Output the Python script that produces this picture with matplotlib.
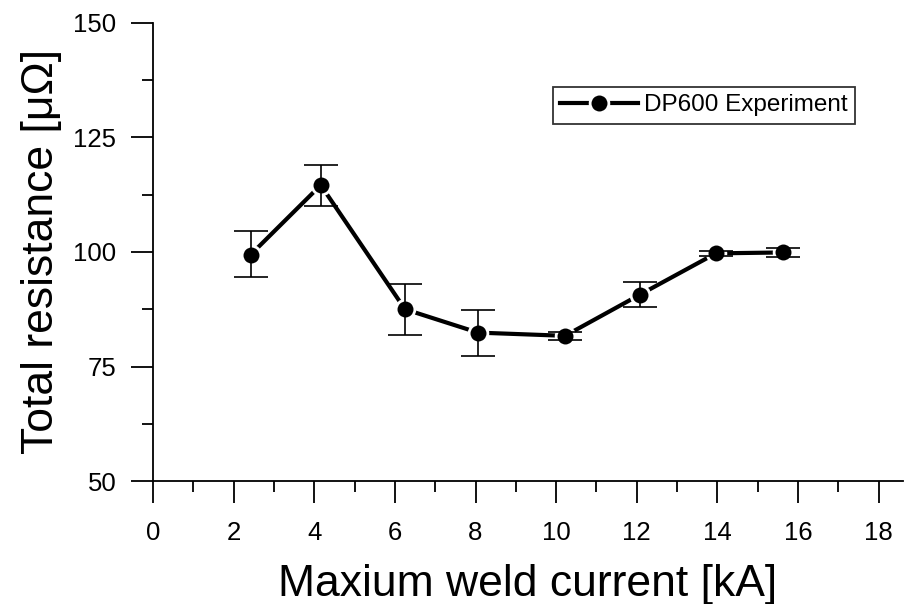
import matplotlib
matplotlib.use("Agg")
import matplotlib.pyplot as plt
from matplotlib.ticker import MultipleLocator

plt.rcParams['font.family'] = ['Liberation Sans', 'DejaVu Sans']

# DP600 total resistance vs. peak weld current
current = [2.42, 4.16, 6.25, 8.06, 10.22, 12.08, 13.96, 15.63]
resistance = [99.4, 114.6, 87.5, 82.4, 81.7, 90.7, 99.7, 99.9]
err_low = [4.9, 4.5, 5.7, 5.1, 0.85, 2.8, 0.6, 0.9]
err_high = [5.2, 4.4, 5.6, 5.0, 0.85, 2.7, 0.6, 0.9]

fig = plt.figure(figsize=(9.12, 6.04), dpi=100)
ax = fig.add_axes([0.1678, 0.2036, 0.8222, 0.7584])

ax.plot(current, resistance, color='black', lw=3, marker='o', ms=13.5,
        mfc='black', mec='white', mew=2, zorder=3, label='DP600 Experiment')
ax.errorbar(current, resistance, yerr=[err_low, err_high], fmt='none',
            ecolor='black', elinewidth=1.2, capsize=12, capthick=1.2, zorder=4)

ax.set_xlim(0, 18.6)
ax.set_ylim(50, 150)
ax.xaxis.set_major_locator(MultipleLocator(2))
ax.xaxis.set_minor_locator(MultipleLocator(1))
ax.yaxis.set_major_locator(MultipleLocator(25))
ax.yaxis.set_minor_locator(MultipleLocator(12.5))

for side in ['top', 'right']:
    ax.spines[side].set_visible(False)
for side in ['left', 'bottom']:
    ax.spines[side].set_linewidth(1.3)

ax.tick_params(which='major', direction='out', length=15.5, width=1.3,
               labelsize=18.5)
ax.tick_params(axis='x', which='major', pad=13)
ax.tick_params(axis='y', which='major', pad=11)
ax.tick_params(which='minor', direction='out', length=8, width=1.3)

ax.set_xlabel('Maxium weld current [kA]', fontsize=32, labelpad=14)
ax.set_ylabel('Total resistance [μΩ]', fontsize=32, labelpad=8)

leg = ax.legend(loc='upper left', bbox_to_anchor=(0.533, 0.860), fontsize=17.5,
                frameon=True, fancybox=False, edgecolor='black',
                borderaxespad=0, handlelength=3.2, borderpad=0.3,
                handletextpad=0.25)
leg.get_frame().set_linewidth(1.3)

fig.savefig('out.png', dpi=100)
